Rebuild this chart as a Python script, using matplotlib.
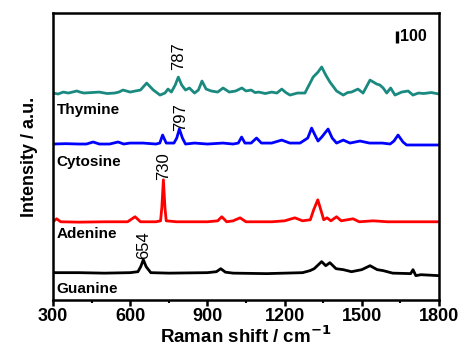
import numpy as np
import matplotlib
matplotlib.use("Agg")
import matplotlib.pyplot as plt
from matplotlib.ticker import MultipleLocator

plt.rcParams['font.family'] = ['Liberation Sans', 'DejaVu Sans']

# --- spectra (Raman shift in cm-1, intensity in a.u. above each baseline) ---
thy_x = [300, 320, 340, 360, 393, 405, 420, 450, 480, 510, 540, 556, 572, 600, 620, 640, 664, 690,
         716, 735, 747, 760, 775, 787, 800, 815, 830, 850, 865, 879, 895, 915, 940, 961, 985, 1010,
         1034, 1050, 1070, 1085, 1100, 1125, 1150, 1170, 1189, 1205, 1221, 1250, 1279, 1311, 1330,
         1344, 1360, 1376, 1402, 1428, 1445, 1460, 1485, 1505, 1532, 1558, 1570, 1583, 1597, 1612,
         1629, 1655, 1680, 1699, 1720, 1740, 1770, 1800]
thy_y = [0, -8, 8, 0, 17, 8, 0, 4, 8, -4, 0, 8, 25, 8, 17, 25, 83, 25,
         -17, 0, 33, 8, 67, 133, 67, 25, 42, 0, 25, 100, 33, 17, 8, 42, 8, 17,
         42, 17, 25, 4, 8, -4, 8, 0, 33, 4, -17, 0, 0, 133, 175,
         217, 150, 92, 17, -17, 4, 8, 33, 0, 108, 75, 67, 42, 0, 42,
         -17, 8, 17, -17, 0, -4, 4, -8]

cyt_x = [300, 350, 400, 430, 456, 480, 520, 553, 575, 599, 650, 700, 715, 726, 740, 770, 781, 791,
         803, 815, 850, 900, 960, 1000, 1020, 1033, 1046, 1070, 1091, 1110, 1150, 1189, 1220, 1260,
         1290, 1305, 1318, 1330, 1345, 1369, 1385, 1402, 1428, 1454, 1493, 1530, 1580, 1610, 1625,
         1641, 1660, 1674, 1720, 1800]
cyt_y = [0, 3, 0, 0, 17, 0, 0, 17, 0, 8, 8, 0, 8, 75, 8, 8, 50, 125,
         50, 0, 8, 0, 8, 0, 8, 58, 8, 8, 50, 8, 8, 33, 8, 8,
         50, 133, 75, 25, 60, 125, 50, 8, 33, 8, 25, 8, 8, 0, 25,
         75, 17, -8, -8, -8]

ade_x = [300, 314, 330, 400, 500, 590, 619, 640, 700, 718, 723, 729, 735, 740, 780, 900, 940, 956,
         975, 1000, 1027, 1050, 1150, 1200, 1240, 1270, 1300, 1313, 1329, 1343, 1352, 1365, 1380,
         1402, 1420, 1466, 1490, 1544, 1600, 1800]
ade_y = [0, 25, 0, -3, 0, 0, 42, 0, 0, 8, 120, 350, 120, 8, 0, 0, 8, 42,
         0, 8, 33, 0, 0, 8, 33, 8, 17, 100, 183, 83, 17, 33, 8,
         42, 8, 25, 0, 8, 0, 0]

gua_x = [300, 400, 500, 600, 630, 641, 651, 662, 680, 750, 900, 935, 952, 970, 1000, 1130, 1200,
         1270, 1299, 1315, 1344, 1360, 1376, 1400, 1428, 1460, 1500, 1532, 1560, 1583, 1620, 1690,
         1699, 1710, 1730, 1800]
gua_y = [0, 0, -4, 0, 8, 50, 108, 50, 0, -4, 0, 8, 33, 4, -4, -8, -4,
         0, 17, 33, 92, 58, 83, 33, 25, 8, 25, 58, 25, 17, -4, -8,
         25, -25, -17, -25]

names = ['Thymine', 'Cytosine', 'Adenine', 'Guanine']
colors = ['#1a8a80', '#0000ff', '#ff0000', '#000000']
offsets = [1725, 1300, 652, 228]
peaks = [787, 797, 730, 654]

spectra = [(thy_x, thy_y), (cyt_x, cyt_y), (ade_x, ade_y), (gua_x, gua_y)]
name_y = [1583, 1150, 550, 92]
label_gap = [58, 25, 15, 20]

fig = plt.figure(figsize=(4.64, 3.59), dpi=100)
ax = fig.add_axes([0.1142, 0.1643, 0.8319, 0.7995])

for (x, y), name, c, off, pk, ny, gap in zip(spectra, names, colors, offsets, peaks, name_y, label_gap):
    x = np.array(x)
    y = np.array(y) + off
    ax.plot(x, y, color=c, lw=2.0, solid_joinstyle='round')
    ax.text(315, ny, name, fontsize=11, fontweight='bold', va='center', ha='left')
    ytop = np.interp(pk, x, y)
    ax.text(pk, y.max() if pk == 730 else ytop + gap, str(pk), rotation=90, fontsize=12,
            ha='center', va='bottom')

# scale bar for 100 counts
ax.plot([1637, 1637], [2142, 2242], color='black', lw=2.4, solid_capstyle='butt')
ax.text(1648, 2192, '100', fontsize=11.5, fontweight='bold', va='center', ha='left')

ax.set_xlim(300, 1800)
ax.set_ylim(0, 2392)
ax.xaxis.set_major_locator(MultipleLocator(300))
ax.xaxis.set_minor_locator(MultipleLocator(150))
ax.set_yticks([])
ax.tick_params(axis='x', which='major', direction='out', length=4, width=1.8,
               labelsize=13, pad=2)
ax.tick_params(axis='x', which='minor', direction='out', length=2.5, width=1.5)
for lbl in ax.get_xticklabels():
    lbl.set_fontweight('bold')
for s in ax.spines.values():
    s.set_linewidth(1.8)

ax.set_xlabel('Raman shift / cm$^{\\mathbf{-1}}$', fontsize=13.5, fontweight='bold', labelpad=0)
ax.set_ylabel('Intensity / a.u.', fontsize=13, fontweight='bold', labelpad=11)

fig.savefig('out.png', dpi=100)
